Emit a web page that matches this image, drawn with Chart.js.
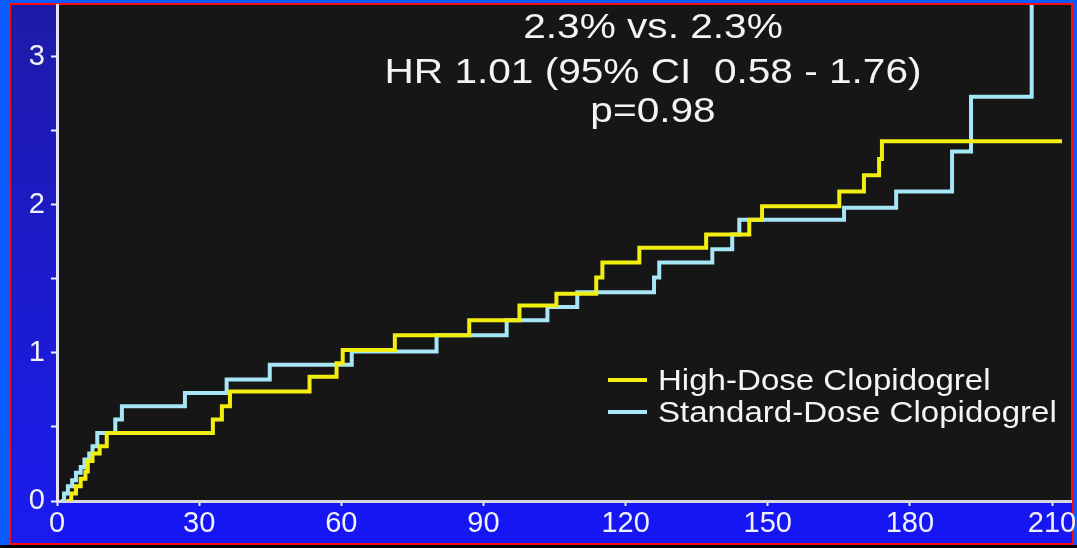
<!DOCTYPE html>
<html>
<head>
<meta charset="utf-8">
<script src="https://cdn.jsdelivr.net/npm/chart.js@4"></script>
<style>
  html, body { margin: 0; padding: 0; background: #000; }
  #wrap { width: 1077px; height: 548px; }
</style>
</head>
<body>
<div id="wrap"><canvas id="km"></canvas></div>
<script>
// Days since randomization and cumulative event rate (%)
var highDoseDays = [2, 3, 4, 5, 6, 6.5, 7.5, 9, 10.5, 32.9, 34.8, 36.5, 53.3, 59, 60.3, 71.3, 87, 97.6,
  105.4, 113.8, 115.1, 122.9, 137, 146.1, 148.8, 165.1, 170.3, 173.5, 174.1, 212.1];
var highDoseRate = [0, 0.05, 0.1, 0.15, 0.2, 0.27, 0.32, 0.37, 0.46, 0.55, 0.64, 0.74, 0.84, 0.93, 1.02, 1.12, 1.22, 1.32,
  1.40, 1.51, 1.61, 1.71, 1.80, 1.90, 1.99, 2.09, 2.20, 2.31, 2.43, 2.43];

var stdDoseDays = [0.8, 1.5, 2.3, 3.2, 4, 5, 5.8, 6.8, 7.5, 8.5, 12.3, 13.7, 27, 35.8, 44.9, 62.2, 80.1, 94.9,
  103.5, 109.8, 126, 127.1, 138.3, 142.5, 144, 166.1, 177.1, 188.9, 192.9, 205.7];
var stdDoseRate = [0, 0.05, 0.1, 0.14, 0.19, 0.23, 0.28, 0.32, 0.37, 0.46, 0.55, 0.64, 0.73, 0.82, 0.92, 1.01, 1.12, 1.22,
  1.31, 1.41, 1.51, 1.61, 1.70, 1.80, 1.90, 1.98, 2.09, 2.36, 2.73, 3.6];

var xTicks = [0, 30, 60, 90, 120, 150, 180, 210];
var yTicks = [0, 0.5, 1, 1.5, 2, 2.5, 3];

var seriesNames = ['High-Dose Clopidogrel', 'Standard-Dose Clopidogrel'];
var statLines = ['2.3% vs. 2.3%', 'HR 1.01 (95% CI  0.58 - 1.76)', 'p=0.98'];

function toPoints(days, rate) {
  return days.map(function (d, i) { return { x: d, y: rate[i] }; });
}

var FONT = '"Liberation Sans", Arial, sans-serif';

// backgrounds: blue frame, red border, black plot area
var backdrop = {
  id: 'backdrop',
  beforeDraw: function (chart) {
    var ctx = chart.ctx, a = chart.chartArea;
    ctx.save();
    ctx.fillStyle = '#0a5cff';
    ctx.fillRect(0, 0, chart.width, chart.height);
    ctx.fillStyle = '#000';
    ctx.fillRect(0, 545, chart.width, 3);
    var g = ctx.createLinearGradient(0, 5, 0, 543);
    g.addColorStop(0, '#1e1aa8');
    g.addColorStop(1, '#1a1cf0');
    ctx.fillStyle = g;
    ctx.fillRect(11, 5, a.left - 11, 538);
    ctx.fillStyle = '#1616f4';
    ctx.fillRect(a.left, a.bottom, 1072 - a.left, 543 - a.bottom);
    ctx.fillStyle = '#161616';
    ctx.fillRect(a.left, a.top, a.right - a.left, a.bottom - a.top);
    ctx.strokeStyle = '#ff0a0a';
    ctx.lineWidth = 2;
    ctx.strokeRect(10, 4, 1063, 540);
    ctx.restore();
  }
};

// stats text and legend, slightly wide lettering as in the slide
var overlay = {
  id: 'overlay',
  afterDatasetsDraw: function (chart) {
    var ctx = chart.ctx;
    ctx.save();
    ctx.fillStyle = '#f4f4f4';
    ctx.font = '35px ' + FONT;
    ctx.textAlign = 'center';
    ctx.textBaseline = 'alphabetic';
    var base = [38, 83, 122];
    statLines.forEach(function (t, i) {
      ctx.save();
      ctx.translate(653, base[i]);
      ctx.scale(1.16, 1);
      ctx.fillText(t, 0, 0);
      ctx.restore();
    });

    ctx.font = '29px ' + FONT;
    ctx.textAlign = 'left';
    var rows = [390, 422];
    chart.data.datasets.forEach(function (ds, i) {
      var cy = rows[i] - 10;
      ctx.strokeStyle = ds.borderColor;
      ctx.lineWidth = 4;
      ctx.beginPath();
      ctx.moveTo(608, cy);
      ctx.lineTo(647, cy);
      ctx.stroke();
      ctx.save();
      ctx.translate(658, rows[i]);
      ctx.scale(1.14, 1);
      ctx.fillText(ds.label, 0, 0);
      ctx.restore();
    });
    ctx.restore();
  }
};

var km = new Chart(document.getElementById('km'), {
  type: 'line',
  data: {
    datasets: [{
      label: seriesNames[0],
      data: toPoints(highDoseDays, highDoseRate),
      borderColor: '#f2ee10',
      borderWidth: 4,
      stepped: true,
      pointRadius: 0
    }, {
      label: seriesNames[1],
      data: toPoints(stdDoseDays, stdDoseRate),
      borderColor: '#a6e6f6',
      borderWidth: 4,
      stepped: true,
      pointRadius: 0
    }]
  },
  options: {
    responsive: true,
    maintainAspectRatio: false,
    animation: false,
    layout: { padding: { left: 10, right: 6, top: 5, bottom: 4 } },
    plugins: {
      legend: { display: false },
      tooltip: { enabled: false }
    },
    scales: {
      x: {
        type: 'linear',
        min: 0,
        max: 214,
        afterFit: function (s) { s.height = 43; s.paddingLeft = 0; s.paddingRight = 0; },
        afterBuildTicks: function (s) {
          s.ticks = xTicks.map(function (v) { return { value: v }; });
        },
        ticks: {
          color: '#f0f0f8',
          padding: 1,
          maxRotation: 0,
          autoSkip: false,
          font: { family: FONT, size: 29 }
        },
        grid: { drawOnChartArea: false, tickLength: 5, tickColor: '#f0f0f8', tickWidth: 2 },
        border: { color: '#d8d8e0', width: 3 }
      },
      y: {
        min: 0,
        max: 3.35,
        afterFit: function (s) { s.width = 47; s.paddingTop = 0; s.paddingBottom = 0; },
        afterBuildTicks: function (s) {
          s.ticks = yTicks.map(function (v) { return { value: v }; });
        },
        ticks: {
          color: '#f0f0f8',
          padding: 6,
          autoSkip: false,
          font: { family: FONT, size: 29 },
          callback: function (v) { return Number.isInteger(v) ? v : ''; }
        },
        grid: { drawOnChartArea: false, tickLength: 6, tickColor: '#f0f0f8', tickWidth: 2 },
        border: { color: '#e4e4f4', width: 3 }
      }
    }
  },
  plugins: [backdrop, overlay]
});
</script>
</body>
</html>
